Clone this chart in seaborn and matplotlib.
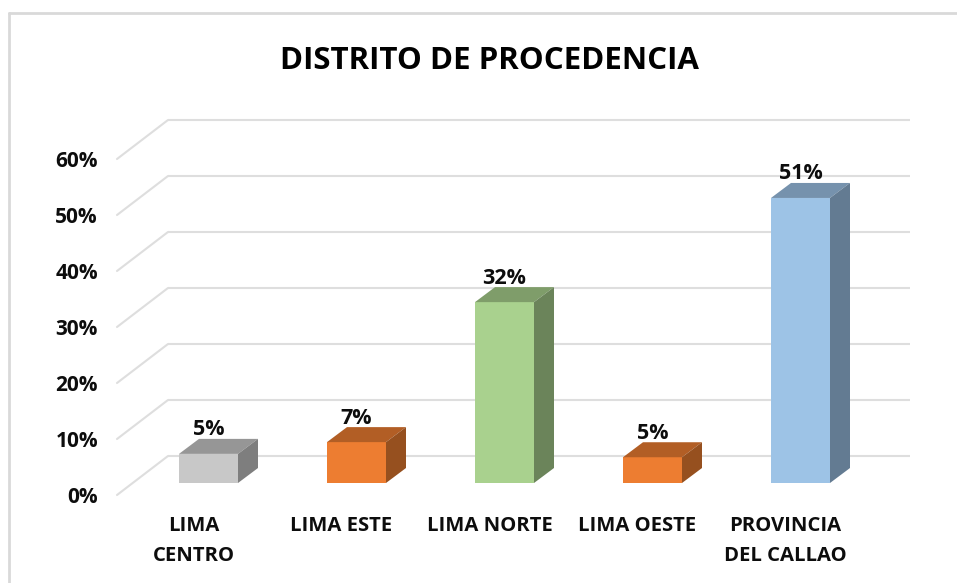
import numpy as np
import pandas as pd
import seaborn as sns
import matplotlib.pyplot as plt
from matplotlib.patches import Polygon

categories = ["LIMA\nCENTRO", "LIMA ESTE", "LIMA NORTE", "LIMA OESTE", "PROVINCIA\nDEL CALLAO"]
values = [5.2, 7.3, 32.3, 4.6, 50.9]
front_colors = ["#c8c8c8", "#ed7d31", "#a9d18e", "#ed7d31", "#9dc3e6"]
top_colors = ["#969696", "#b25e25", "#7f9d6a", "#b25e25", "#7692ad"]
side_colors = ["#7e7e7e", "#96501f", "#6b845a", "#96501f", "#637b92"]
y_ticks = [0, 10, 20, 30, 40, 50, 60]
title = "DISTRITO DE PROCEDENCIA"

sns.set_theme(style="white")
plt.rcParams["font.family"] = ["Open Sans", "DejaVu Sans"]

W, H = 957, 583
x_px = 148.0   # pixels per category
y_px = 5.6     # pixels per percent
x0, y0 = 208.5, 483  # pixel of first category centre and of 0%
dx = 20 / x_px
dy = 15 / y_px
wall_dx = 51 / x_px
wall_dy = 27 / y_px   # floor of the back wall above the bars' base

df = pd.DataFrame({"cat": categories, "val": values})

fig = plt.figure(figsize=(W / 100, H / 100), dpi=100)
ax = fig.add_axes([0, 0, 1, 1])
sns.barplot(data=df, x="cat", y="val", hue="cat", palette=front_colors, legend=False,
            width=59 / x_px, saturation=1, ax=ax, zorder=3, linewidth=0)
ax.set_xlim(-x0 / x_px, (W - x0) / x_px)
ax.set_ylim((y0 - H) / y_px, y0 / y_px)
ax.axis("off")

# back wall gridlines with their diagonals
left = (168 - x0) / x_px
right = (910 - x0) / x_px
for t in y_ticks:
    yb = t + wall_dy
    ax.plot([left, right], [yb, yb], color="#dedede", lw=1.5, zorder=1, solid_capstyle="butt")
    ax.plot([left - wall_dx, left], [t - 12 / y_px, yb], color="#dedede", lw=1.5, zorder=1)
    ax.text((98 - x0) / x_px, t - 14.5 / y_px, f"{t}%", ha="right", va="center",
            fontsize=15, fontweight="bold", color="#0d0d0d")

# 3d faces on the bars
for bar, val, tc, sc in zip(ax.patches, values, top_colors, side_colors):
    xl = bar.get_x()
    xr = xl + bar.get_width()
    ax.add_patch(Polygon([(xl, val), (xr, val), (xr + dx, val + dy), (xl + dx, val + dy)],
                         color=tc, lw=0, zorder=3))
    ax.add_patch(Polygon([(xr, 0), (xr + dx, dy), (xr + dx, val + dy), (xr, val)],
                         color=sc, lw=0, zorder=3))
    ax.text((xl + xr) / 2, val + dy + 9 / y_px, f"{val:.0f}%", ha="center", va="center",
            fontsize=15.5, fontweight="bold", color="#0d0d0d", zorder=4)

# category labels
for i, c in enumerate(categories):
    ax.text(i - 15 / x_px, (y0 - 516) / y_px, c, ha="center", va="top", fontsize=14.6, fontweight="bold",
            color="#0d0d0d", linespacing=1.65)

ax.text((489 - x0) / x_px, (y0 - 61) / y_px, title, ha="center", va="center",
        fontsize=22.5, fontweight="bold", color="#000000")

# chart border, only top and left are visible
ax.plot([(9 - x0) / x_px, (9 - x0) / x_px], [(y0 - H) / y_px, (y0 - 13) / y_px], color="#d9d9d9", lw=2)
ax.plot([(9 - x0) / x_px, (W - x0) / x_px], [(y0 - 13) / y_px, (y0 - 13) / y_px], color="#d9d9d9", lw=2)

fig.savefig("out.png", dpi=100)
